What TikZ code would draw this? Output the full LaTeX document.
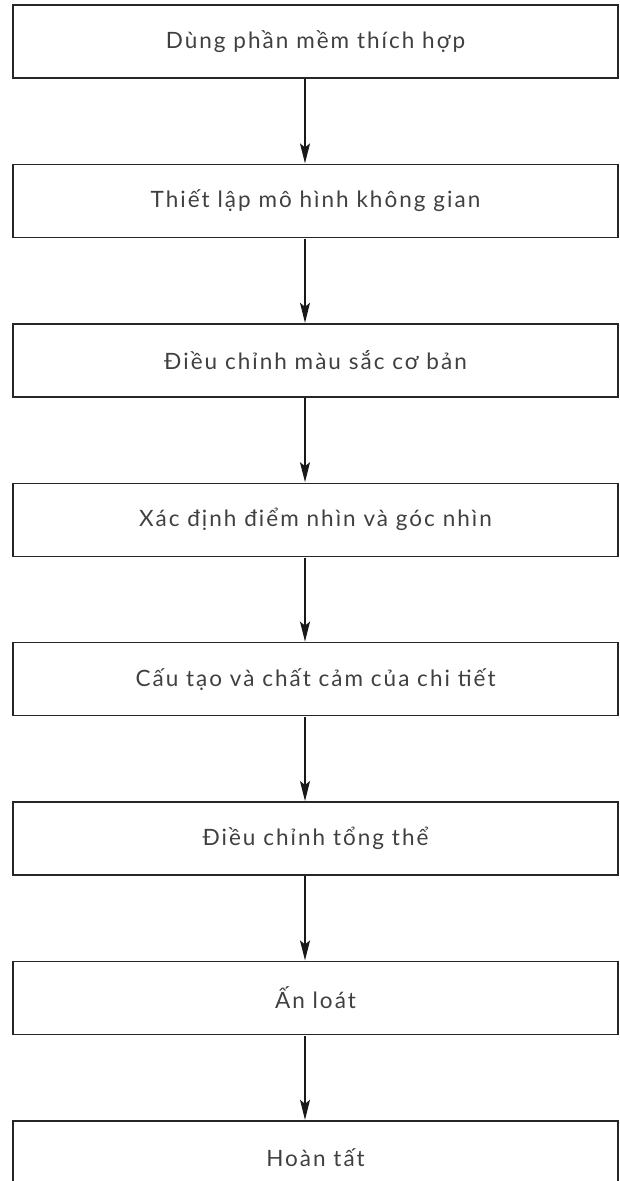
\documentclass[tikz,border=0pt]{standalone}
\usepackage{fontspec}
\setmainfont{Lato}[LetterSpace=9]
\usetikzlibrary{positioning, arrows.meta}

\begin{document}
\begin{tikzpicture}[
	node distance=85pt,
	stage/.style={rectangle, draw=black!85, line width=1.4pt, minimum width=605pt, minimum height=73pt, inner sep=0pt, align=center, text=black!75},
	arrow/.style={line width=1.4pt, draw=black!90, -{Stealth[length=20pt, width=10pt, inset=4pt]}, shorten <=0.7pt, shorten >=0.3pt},
	every node/.style={font=\fontsize{22.5}{26}\selectfont}
]
	\useasboundingbox (0,0) rectangle (620pt,-1181pt);

	\node[stage] at (315.5pt,-41.5pt) (s1) {Dùng phần mềm thích hợp};
	\node[stage, below=of s1] (s2) {Thiết lập mô hình không gian};
	\node[stage, below=of s2] (s3) {Điều chỉnh màu sắc cơ bản};
	\node[stage, below=of s3] (s4) {Xác định điểm nhìn và góc nhìn};
	\node[stage, below=of s4] (s5) {Cấu tạo và chất cảm của chi tiết};
	\node[stage, below=of s5] (s6) {Điều chỉnh tổng thể};
	\node[stage, below=of s6] (s7) {Ấn loát};
	\node[stage, below=of s7] (s8) {Hoàn tất};

	% the connectors sit a little left of the box centres
	\draw[arrow] ([xshift=-10.5pt]s1.south) -- ([xshift=-10.5pt]s2.north);
	\draw[arrow] ([xshift=-10.5pt]s2.south) -- ([xshift=-10.5pt]s3.north);
	\draw[arrow] ([xshift=-10.5pt]s3.south) -- ([xshift=-10.5pt]s4.north);
	\draw[arrow] ([xshift=-10.5pt]s4.south) -- ([xshift=-10.5pt]s5.north);
	\draw[arrow] ([xshift=-10.5pt]s5.south) -- ([xshift=-10.5pt]s6.north);
	\draw[arrow] ([xshift=-10.5pt]s6.south) -- ([xshift=-10.5pt]s7.north);
	\draw[arrow] ([xshift=-10.5pt]s7.south) -- ([xshift=-10.5pt]s8.north);
\end{tikzpicture}
\end{document}
